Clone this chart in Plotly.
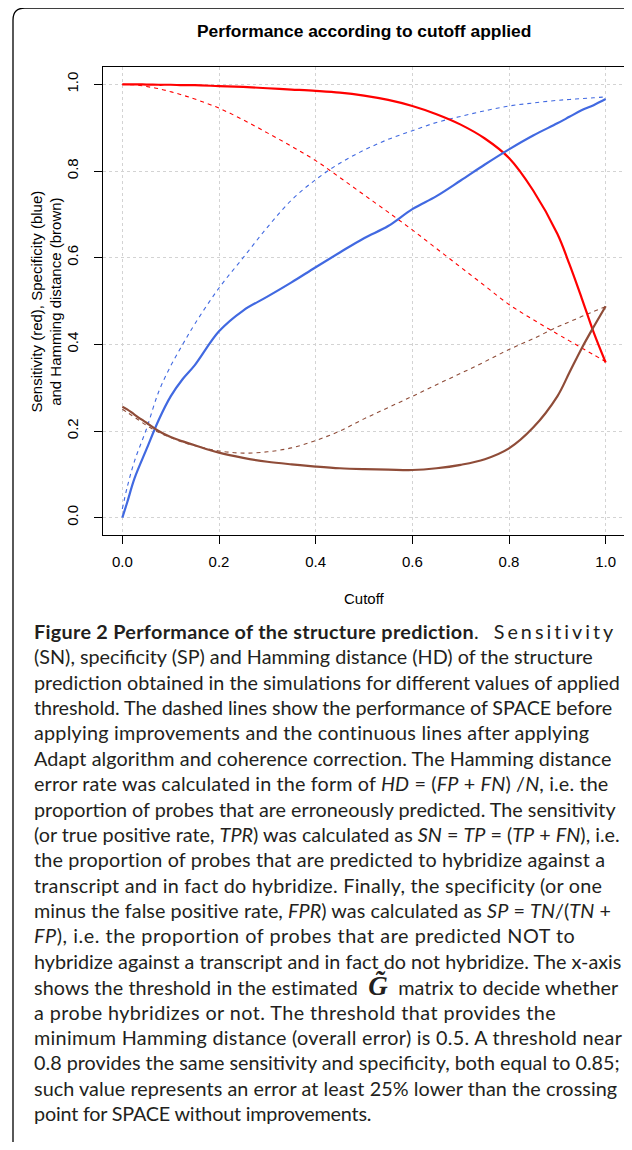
import plotly.graph_objects as go

# ---------------- data ----------------
cutoff = [0, 0.01, 0.025, 0.05, 0.075, 0.1, 0.125, 0.15, 0.2, 0.25, 0.3, 0.35, 0.4,
          0.45, 0.5, 0.55, 0.6, 0.65, 0.7, 0.75, 0.8, 0.85, 0.9, 0.925, 0.95, 0.975, 1.0]

# Sensitivity (red)
sens_after = [1.0, 1.0, 1.0, 0.9995, 0.999, 0.999, 0.998, 0.998, 0.996, 0.994, 0.991, 0.988, 0.985,
              0.981, 0.974, 0.964, 0.950, 0.931, 0.907, 0.875, 0.830, 0.755, 0.655, 0.585, 0.508, 0.428, 0.358]
sens_before = [1.0, 0.9995, 0.999, 0.995, 0.990, 0.983, 0.975, 0.966, 0.945, 0.918, 0.888, 0.857, 0.824,
               0.785, 0.745, 0.705, 0.664, 0.621, 0.578, 0.535, 0.492, 0.457, 0.424, 0.408, 0.392, 0.376, 0.360]

# Specificity (blue)
spec_after = [0.0, 0.035, 0.090, 0.158, 0.225, 0.280, 0.320, 0.352, 0.430, 0.478, 0.510, 0.543, 0.578,
              0.612, 0.645, 0.673, 0.712, 0.742, 0.778, 0.815, 0.850, 0.882, 0.910, 0.925, 0.940, 0.952, 0.966]
spec_before = [0.02, 0.07, 0.13, 0.205, 0.29, 0.35, 0.40, 0.447, 0.53, 0.60, 0.67, 0.733, 0.78,
               0.818, 0.848, 0.873, 0.893, 0.912, 0.926, 0.939, 0.950, 0.957, 0.963, 0.965, 0.967, 0.969, 0.971]

# Hamming distance (brown)
hd_after = [0.256, 0.250, 0.238, 0.219, 0.200, 0.186, 0.176, 0.167, 0.150, 0.138, 0.129, 0.123, 0.118,
            0.114, 0.112, 0.111, 0.110, 0.114, 0.122, 0.135, 0.160, 0.208, 0.280, 0.335, 0.390, 0.440, 0.488]
hd_before = [0.250, 0.243, 0.232, 0.213, 0.197, 0.185, 0.174, 0.166, 0.154, 0.149, 0.152, 0.161, 0.178,
             0.200, 0.228, 0.254, 0.280, 0.307, 0.333, 0.360, 0.388, 0.413, 0.440, 0.452, 0.464, 0.476, 0.487]

tick_vals = [0, 0.2, 0.4, 0.6, 0.8, 1.0]
tick_labels = ["0.0", "0.2", "0.4", "0.6", "0.8", "1.0"]

title_text = "Performance according to cutoff applied"
x_title = "Cutoff"
y_title = "Sensitivity (red), Specificity (blue)<br>and Hamming distance (brown)"

G = ("<span style='font-family:Liberation Serif;font-size:27px'><b><i>G\u0303</i></b></span>")
caption_lines = [
    "<span style='letter-spacing:0.3px'><b>Figure 2 Performance of the structure prediction</b>.</span>\u2003"
    "<span style='letter-spacing:3px'>Sensitivity</span>",
    "(SN), specificity (SP) and Hamming distance (HD) of the structure",
    "prediction obtained in the simulations for different values of applied",
    "threshold. The dashed lines show the performance of SPACE before",
    "applying improvements and the continuous lines after applying",
    "Adapt algorithm and coherence correction. The Hamming distance",
    "error rate was calculated in the form of <i>HD</i> = (<i>FP</i> + <i>FN</i>) /<i>N</i>, i.e. the",
    "proportion of probes that are erroneously predicted. The sensitivity",
    "(or true positive rate, <i>TPR</i>) was calculated as <i>SN</i> = <i>TP</i> = (<i>TP</i> + <i>FN</i>), i.e.",
    "the proportion of probes that are predicted to hybridize against a",
    "transcript and in fact do hybridize. Finally, the specificity (or one",
    "minus the false positive rate, <i>FPR</i>) was calculated as <i>SP</i> = <i>TN</i>/(<i>TN</i> +",
    "<i>FP</i>), i.e. the proportion of probes that are predicted NOT to",
    "hybridize against a transcript and in fact do not hybridize. The x-axis",
    "shows the threshold in the estimated \u00a0" + G + "\u00a0 matrix to decide whether",
    "a probe hybridizes or not. The threshold that provides the",
    "minimum Hamming distance (overall error) is 0.5. A threshold near",
    "0.8 provides the same sensitivity and specificity, both equal to 0.85;",
    "such value represents an error at least 25% lower than the crossing",
    "point for SPACE without improvements.",
]
# per-line tracking (px) so the ragged right edge follows the reference typesetting
caption_tracking = [0, 0, 0, -0.1, 0.22, 0.08, 0.14, 0, 0, 0.15,
                    0.24, 0.05, 0.55, 0, 0.1, 0.43, 0.29, 0, 0.07, -0.2]

# ---------------- layout helpers ----------------
OFF = 8                      # page body margin of the html file
W, H = 632 - OFF, 1150 - OFF
ML, MR, MT, MB = 103 - OFF, 7, 67 - OFF, 615
PW, PH = W - ML - MR, H - MT - MB


def px2x(px):               # page pixel -> paper x
    return (px - OFF - ML) / PW


def py2y(py):               # page pixel -> paper y
    return (H - MB - (py - OFF)) / PH


RED = "#ff0000"
BLUE = "#4169e1"
BROWN = "#8f4c38"
PLOT_FONT = "Liberation Sans"
CAP_FONT = "Lato"

fig = go.Figure()
series = [
    (sens_before, RED, "dash"), (spec_before, BLUE, "dash"), (hd_before, BROWN, "dash"),
    (sens_after, RED, "solid"), (spec_after, BLUE, "solid"), (hd_after, BROWN, "solid"),
]
for vals, col, kind in series:
    if kind == "dash":
        line = dict(color=col, width=1.1, dash="4px,4px")
    else:
        line = dict(color=col, width=2.2)
    fig.add_trace(go.Scatter(x=cutoff, y=vals, mode="lines", line=line,
                             line_shape="spline", hoverinfo="skip", showlegend=False))

axis_common = dict(
    range=[-0.04, 1.04], tickvals=tick_vals, ticktext=tick_labels,
    showgrid=True, gridcolor="#d3d3d3", griddash="dot", gridwidth=1,
    zeroline=False, showline=True, linecolor="black", linewidth=1.2, mirror=True,
    ticks="outside", ticklen=8, tickwidth=1, tickcolor="black",
    tickfont=dict(family=PLOT_FONT, size=15, color="black"),
)
fig.update_xaxes(**axis_common, ticklabelstandoff=5)
fig.update_yaxes(**axis_common, tickangle=-90, ticklabelstandoff=10)

ann = []
ann.append(dict(text="<b>" + title_text + "</b>", x=0.5, y=py2y(31), xref="paper", yref="paper",
                xanchor="center", yanchor="middle", showarrow=False,
                font=dict(family=PLOT_FONT, size=17.4, color="black")))
ann.append(dict(text=x_title, x=0.5, y=py2y(598), xref="paper", yref="paper",
                xanchor="center", yanchor="middle", showarrow=False,
                font=dict(family=PLOT_FONT, size=15, color="black")))
ann.append(dict(text=y_title, x=px2x(45.5), y=py2y(302), xref="paper", yref="paper",
                xanchor="center", yanchor="middle", showarrow=False, textangle=-90,
                font=dict(family=PLOT_FONT, size=15, color="black")))

line0, step = 631.0, 25.37
for i, t in enumerate(caption_lines):
    ls = caption_tracking[i]
    txt = f"<span style='letter-spacing:{ls}px'>{t}</span>" if ls else t
    ann.append(dict(text=txt, x=px2x(32), y=py2y(line0 + i * step), xref="paper", yref="paper",
                    xanchor="left", yanchor="middle", showarrow=False, align="left",
                    font=dict(family=CAP_FONT, size=19.8, color="#231f20")))

# outer rounded frame (top-left corner)
x13, x25, x640 = px2x(13), px2x(25), px2x(640)
y8, y20, y1142 = py2y(8), py2y(20), py2y(1142)
frame = dict(type="path", xref="paper", yref="paper",
             path=f"M {x13},{y1142} L {x13},{y20} Q {x13},{y8} {x25},{y8} L {x640},{y8}",
             line=dict(color="black", width=1.3))

fig.update_layout(
    width=W, height=H, margin=dict(l=ML, r=MR, t=MT, b=MB),
    paper_bgcolor="white", plot_bgcolor="white",
    annotations=ann, shapes=[frame], showlegend=False,
)

fig.write_html("out.html")
